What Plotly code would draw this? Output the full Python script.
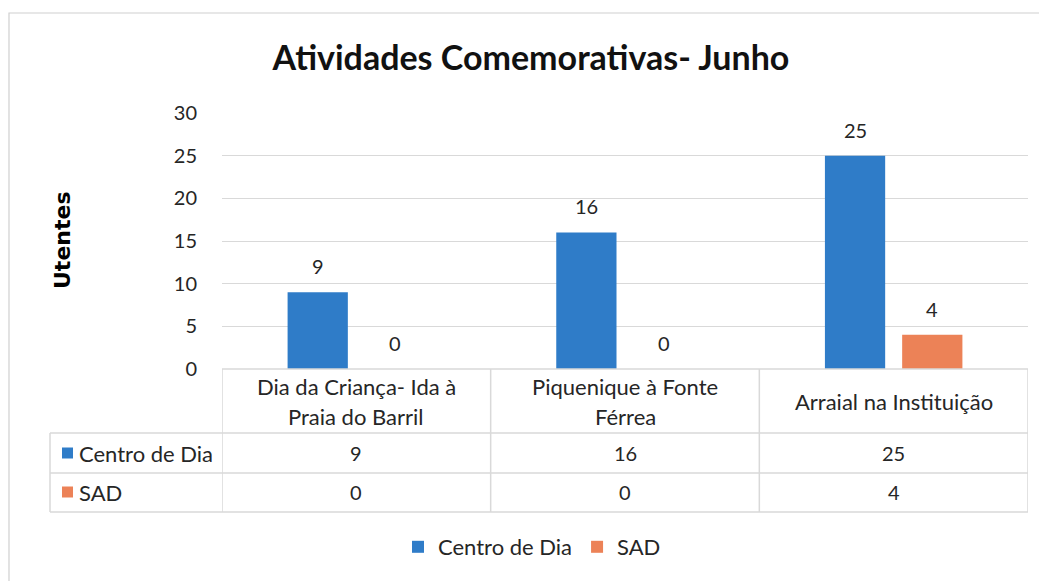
import plotly.graph_objects as go

categories = ["Dia da Criança- Ida à\nPraia do Barril", "Piquenique à Fonte\nFérrea", "Arraial na Instituição"]
series_names = ["Centro de Dia", "SAD"]
centro_de_dia = [9, 16, 25]
sad = [0, 0, 4]
colors = ["#2F7CC8", "#EC8257"]
y_ticks = [0, 5, 10, 15, 20, 25, 30]

title_text = "Atividades Comemorativas- Junho"
y_title = "Utentes"

FONT = "Lato, Open Sans, sans-serif"
GRID = "#d9d9d9"
TXT = "#262626"
NUM = 20   # numeric text size
LBL = 22   # word label size

OFF = 8  # page body margin
W, H = 1047 - OFF, 581 - OFF
L, T = 222 - OFF, 113 - OFF
R = 19
B = H - (369 - OFF)
PW, PH = W - L - R, H - T - B

def py_(py):
    """screen pixel y -> paper y"""
    return (369 - py) / PH

def px_(px):
    """screen pixel x -> paper x"""
    return (px - 222) / PW

xidx = list(range(len(categories)))
values = [centro_de_dia, sad]

fig = go.Figure()
for name, vals, col in zip(series_names, values, colors):
    fig.add_trace(go.Bar(x=xidx, y=vals, name=name, marker=dict(color=col, line=dict(width=0))))

annotations = []
shapes = []
offsets = [-38.5, 38.5]
for s, vals in enumerate(values):
    for i, v in enumerate(vals):
        annotations.append(dict(x=i, y=v, xref="x", yref="y", text=str(v), showarrow=False,
                                xshift=offsets[s], yshift=12, yanchor="bottom",
                                font=dict(family=FONT, size=NUM, color=TXT)))

row_y = [369, 433, 473, 512]
shapes.append(dict(type="line", xref="x", yref="paper", x0=-0.5, x1=len(categories) - 0.5,
                   y0=py_(row_y[0]), y1=py_(row_y[0]), line=dict(color=GRID, width=1.5)))
for yy in row_y[1:]:
    shapes.append(dict(type="line", xref="paper", yref="paper", x0=px_(50), x1=1,
                       y0=py_(yy), y1=py_(yy), line=dict(color=GRID, width=1.5)))
for k in range(len(categories) + 1):
    shapes.append(dict(type="line", xref="x", yref="paper", x0=k - 0.5, x1=k - 0.5,
                       y0=py_(row_y[0]), y1=py_(row_y[-1]), line=dict(color=GRID, width=1.5)))
shapes.append(dict(type="line", xref="paper", yref="paper", x0=px_(50), x1=px_(50),
                   y0=py_(row_y[1]), y1=py_(row_y[-1]), line=dict(color=GRID, width=1.5)))
shapes.append(dict(type="rect", xref="paper", yref="paper", x0=px_(9), x1=px_(1070),
                   y0=py_(620), y1=py_(13), line=dict(color="#d0d0d0", width=1.2)))

for i, c in enumerate(categories):
    lines = c.split("\n")
    ys = [401] if len(lines) == 1 else [386, 416]
    for ln, yy in zip(lines, ys):
        annotations.append(dict(x=i, y=py_(yy), xref="x", yref="paper", text=ln, showarrow=False,
                                yanchor="middle", font=dict(family=FONT, size=LBL, color=TXT)))

row_centers = [453, 492]
for s, (name, vals, col) in enumerate(zip(series_names, values, colors)):
    yc = py_(row_centers[s])
    shapes.append(dict(type="rect", xref="paper", yref="paper",
                       x0=px_(62), x1=px_(73),
                       y0=yc - 5.5 / PH, y1=yc + 5.5 / PH, fillcolor=col, line=dict(width=0)))
    annotations.append(dict(x=px_(77), y=yc, xref="paper", yref="paper", text=name,
                            showarrow=False, xanchor="left", yanchor="middle",
                            font=dict(family=FONT, size=LBL, color=TXT)))
    for i, v in enumerate(vals):
        annotations.append(dict(x=i, y=yc, xref="x", yref="paper", text=str(v), showarrow=False,
                                yanchor="middle", font=dict(family=FONT, size=NUM, color=TXT)))

annotations.append(dict(x=px_(62), y=py_(240), xref="paper", yref="paper", text="<b>" + y_title + "</b>",
                        showarrow=False, textangle=-90, xanchor="center", yanchor="middle",
                        font=dict(family="DejaVu Sans, sans-serif", size=22, color="#000")))

fig.update_layout(
    width=W, height=H,
    margin=dict(l=L, r=R, t=T, b=B),
    paper_bgcolor="white", plot_bgcolor="white",
    title=dict(text="<b>" + title_text + "</b>", x=(531 - OFF) / W, xanchor="center",
               y=1 - (58 - OFF) / H, yanchor="middle", font=dict(family=FONT, size=34, color="#111")),
    barmode="group", bargap=0.425, bargroupgap=0.22,
    xaxis=dict(range=[-0.5, len(categories) - 0.5], showticklabels=False, showgrid=False,
               zeroline=False, showline=False, ticks=""),
    yaxis=dict(range=[0, 30], tickvals=y_ticks, showgrid=True, gridcolor=GRID, gridwidth=1.2,
               zeroline=False, showline=False, ticks="", ticklabelstandoff=24,
               tickfont=dict(family=FONT, size=NUM, color=TXT)),
    legend=dict(orientation="h", x=px_(532), xanchor="center", y=py_(547), yanchor="middle",
                font=dict(family=FONT, size=LBL, color=TXT), itemwidth=30, traceorder="normal"),
    annotations=annotations, shapes=shapes,
)

fig.write_html("out.html")
